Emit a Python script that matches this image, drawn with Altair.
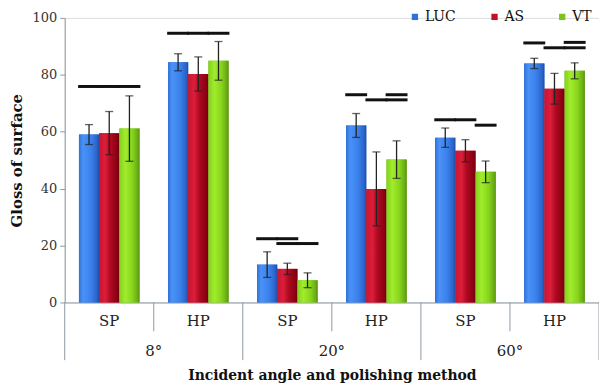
import altair as alt
import pandas as pd

# ---------------- data ----------------
angles = ["8°", "8°", "20°", "20°", "60°", "60°"]
methods = ["SP", "HP", "SP", "HP", "SP", "HP"]
series = ["LUC", "AS", "VT"]

luc = [59.0, 84.4, 13.3, 62.2, 57.9, 84.0]
luc_err = [3.5, 3.0, 4.5, 4.2, 3.4, 1.8]
as_vals = [59.5, 80.3, 11.8, 39.9, 53.3, 75.1]
as_err = [7.6, 6.0, 2.0, 13.0, 3.9, 5.4]
vt = [61.1, 84.9, 7.8, 50.2, 45.9, 81.4]
vt_err = [11.5, 6.8, 2.6, 6.6, 3.8, 2.8]

# significance lines: (category index, first series, last series, level)
sig_cat = [0, 1, 2, 2, 3, 3, 3, 4, 4, 5, 5, 5]
sig_from = ["LUC", "LUC", "LUC", "AS", "LUC", "AS", "VT", "LUC", "VT", "LUC", "AS", "VT"]
sig_to = ["VT", "VT", "AS", "VT", "LUC", "VT", "VT", "AS", "VT", "LUC", "VT", "VT"]
sig_level = [75.9, 94.6, 22.4, 20.7, 73.0, 71.2, 73.0, 64.2, 62.3, 91.2, 89.5, 91.4]

y_ticks = [0, 20, 40, 60, 80, 100]

# ---------------- tables ----------------
cats = [f"{a} {m}" for a, m in zip(angles, methods)]

rows = []
for s, vals, errs in zip(series, [luc, as_vals, vt], [luc_err, as_err, vt_err]):
    for c, v, e in zip(cats, vals, errs):
        rows.append(dict(cat=c, series=s, value=v, lo=v - e, hi=v + e))
df = pd.DataFrame(rows)

sig_rows = []
for ci, a, b, lv in zip(sig_cat, sig_from, sig_to, sig_level):
    for s in series[series.index(a): series.index(b) + 1]:
        sig_rows.append(dict(cat=cats[ci], series=s, level=lv))
sig_df = pd.DataFrame(sig_rows)

hp_df = pd.DataFrame({"cat": [c for c, m in zip(cats, methods) if m == "HP"],
                      "angle": [a for a, m in zip(angles, methods) if m == "HP"]})
sp_df = pd.DataFrame({"cat": [c for c, m in zip(cats, methods) if m == "SP"]})
last_df = pd.DataFrame({"cat": [cats[-1]]})

# ---------------- styling ----------------
W, H = 537, 286
FONT = "DejaVu Serif"
GRAY = "#8d9aa5"

xscale = alt.Scale(domain=cats, paddingInner=0, paddingOuter=0, round=False)
xoff = alt.XOffset("series:N", scale=alt.Scale(domain=series, paddingInner=0, paddingOuter=0.705, round=False))
yscale = alt.Scale(domain=[0, 100], nice=False)

legend_colors = ["#2f6fd8", "#c0102a", "#7cc41c"]

grads = {
    "LUC": [("#3270d8", 0), ("#4a92f6", 0.2), ("#3a80ec", 0.6), ("#2a62c6", 0.9), ("#1e4aa0", 1)],
    "AS": [("#c81430", 0), ("#dc1e3a", 0.3), ("#b00a22", 0.55), ("#8a0012", 0.9), ("#6e000c", 1)],
    "VT": [("#84d01e", 0), ("#a0ec2c", 0.3), ("#86d41c", 0.65), ("#68aa14", 0.92), ("#558a0e", 1)],
}

x_main = alt.X("cat:N", scale=xscale, sort=cats,
               axis=alt.Axis(labelExpr="split(datum.label, ' ')[1]", ticks=False, domainColor=GRAY,
                             domainWidth=1, labelFont=FONT, labelFontSize=15, labelColor="#222",
                             labelPadding=11, labelAngle=0, titleFont=FONT, titleFontSize=14,
                             titleFontWeight="bold", titleColor="#111", titlePadding=40),
               title="Incident angle and polishing method")
y_main = alt.Y("value:Q", scale=yscale,
               axis=alt.Axis(values=y_ticks, grid=False, domainColor=GRAY, tickColor=GRAY, tickSize=5,
                             labelFont=FONT, labelFontSize=13, labelColor="#333", labelPadding=3,
                             titleFont=FONT, titleFontSize=15, titleFontWeight="bold",
                             titleColor="#111", titlePadding=8),
               title="Gloss of surface")

base_bars = alt.Chart(df).mark_bar().encode(
    x=x_main, xOffset=xoff, y=y_main,
    color=alt.Color("series:N", scale=alt.Scale(domain=series, range=legend_colors),
                    legend=alt.Legend(title=None, orient="none", direction="horizontal",
                                      legendX=345, legendY=-8, symbolType="square", symbolSize=40,
                                      symbolStrokeWidth=0, labelFont=FONT, labelFontSize=14,
                                      labelColor="#111", labelOffset=3, columnPadding=31,
                                      padding=0, gridAlign="none")),
)

grad_layers = []
for s in series:
    g = alt.Gradient(gradient="linear", x1=0, x2=1, y1=0, y2=0,
                     stops=[alt.GradientStop(color=c, offset=o) for c, o in grads[s]])
    grad_layers.append(
        alt.Chart(df).transform_filter(alt.datum.series == s).mark_bar(color=g).encode(
            x=alt.X("cat:N", scale=xscale, sort=cats), xOffset=xoff, y=alt.Y("value:Q", scale=yscale)))

err_rule = alt.Chart(df).mark_rule(color="#222", strokeWidth=1.3).encode(
    x=alt.X("cat:N", scale=xscale, sort=cats), xOffset=xoff,
    y=alt.Y("lo:Q", scale=yscale), y2="hi:Q")
err_top = alt.Chart(df).mark_tick(color="#222", thickness=1.3, size=8, orient="horizontal").encode(
    x=alt.X("cat:N", scale=xscale, sort=cats), xOffset=xoff, y=alt.Y("hi:Q", scale=yscale))
err_bot = alt.Chart(df).mark_tick(color="#222", thickness=1.3, size=8, orient="horizontal").encode(
    x=alt.X("cat:N", scale=xscale, sort=cats), xOffset=xoff, y=alt.Y("lo:Q", scale=yscale))

sig = alt.Chart(sig_df).mark_tick(color="#111", thickness=3, size=22, orient="horizontal",
                                  opacity=1).encode(
    x=alt.X("cat:N", scale=xscale, sort=cats), xOffset=xoff,
    y=alt.Y("level:Q", scale=yscale))

inner_div = alt.Chart(hp_df).mark_rule(color=GRAY, strokeWidth=1).encode(
    x=alt.X("cat:N", scale=xscale, sort=cats, bandPosition=0),
    y=alt.value(H), y2=alt.value(H + 29))
group_div = alt.Chart(sp_df).mark_rule(color=GRAY, strokeWidth=1).encode(
    x=alt.X("cat:N", scale=xscale, sort=cats, bandPosition=0),
    y=alt.value(H), y2=alt.value(H + 58))
end_div = alt.Chart(last_df).mark_rule(color=GRAY, strokeWidth=1).encode(
    x=alt.X("cat:N", scale=xscale, sort=cats, bandPosition=1),
    y=alt.value(H), y2=alt.value(H + 58))
group_lbl = alt.Chart(hp_df).mark_text(font=FONT, fontSize=15, color="#222", baseline="middle").encode(
    x=alt.X("cat:N", scale=xscale, sort=cats, bandPosition=0),
    y=alt.value(H + 49), text="angle:N")

chart = alt.layer(
    base_bars, *grad_layers, err_rule, err_top, err_bot, sig,
    inner_div, group_div, end_div, group_lbl
).properties(
    width=W, height=H,
    autosize=alt.AutoSizeParams(type="none"),
    padding={"left": 57, "top": 9, "right": 0, "bottom": 80},
).configure_view(stroke=None).configure(background="white")

chart.save("out.html", embed_options={"renderer": "svg", "actions": False})
